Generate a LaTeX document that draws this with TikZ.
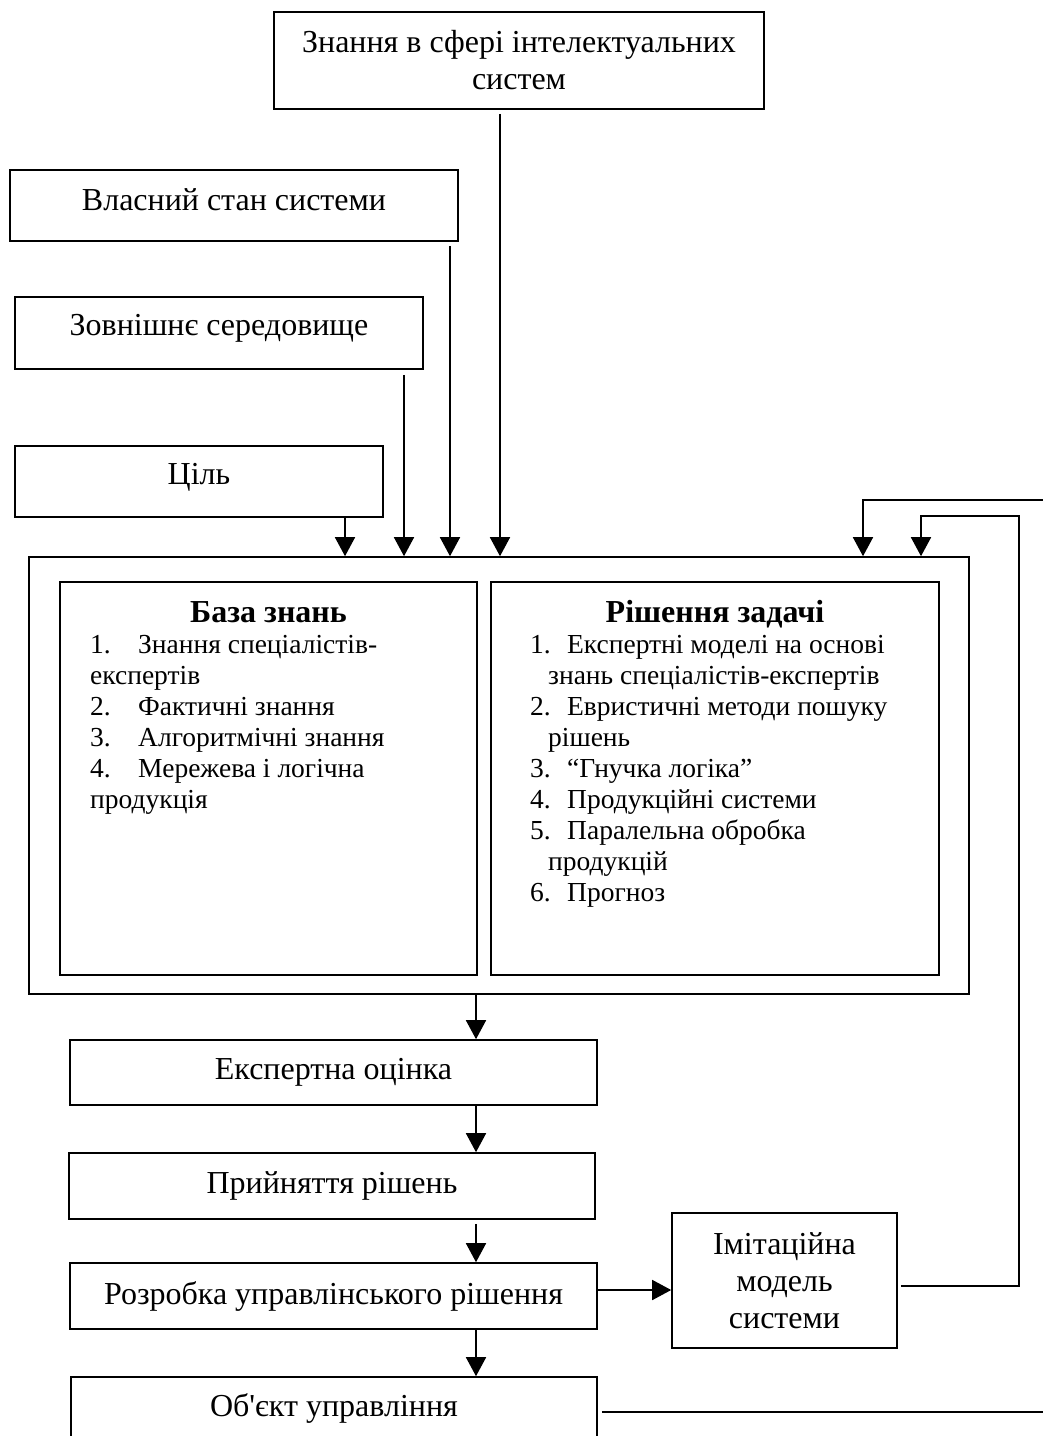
\documentclass[tikz,border=0pt]{standalone}
\usepackage{fontspec}
\setmainfont{Liberation Serif}[Ligatures=TeXOff]
\usetikzlibrary{arrows.meta}
\begin{document}
\begin{tikzpicture}[x=1pt,y=-1pt,
  lw/.style={line width=1.6pt},
  box/.style={draw,lw,rectangle,inner sep=0pt,align=center,
    font=\fontsize{32}{37}\selectfont},
  frame/.style={draw,lw,rectangle,inner sep=0pt},
  label/.style={inner sep=0pt,align=center,font=\fontsize{32}{37}\selectfont},
  arr/.style={lw,-{Triangle[length=19pt,width=20pt]}},
  head/.style={inner sep=0pt,font=\fontsize{32}{37}\selectfont\bfseries},
  item/.style={anchor=base west,inner sep=0pt,font=\fontsize{27.5}{31}\selectfont}
]
\useasboundingbox (0,0) rectangle (1043,1436);

% input boxes
\node[box,minimum width=490pt,minimum height=97pt] (top) at (519,60.5)
  {Знання в сфері інтелектуальних\\систем};
\node[box,minimum width=448pt,minimum height=71pt] (vl) at (234,205.5) {};
\node[label] (vlt) at (234,200) {Власний стан системи};
\node[box,minimum width=408pt,minimum height=72pt] (zo) at (219,333) {};
\node[label] (zot) at (219,328) {Зовнішнє середовище};
\node[box,minimum width=368pt,minimum height=71pt] (ts) at (199,481.5) {};
\node[label] (tst) at (199,477) {Ціль};

% central block
\node[frame,minimum width=940pt,minimum height=437pt] (outer) at (499,775.5) {};
\node[frame,minimum width=417pt,minimum height=393pt] (inL) at (268.5,778.5) {};
\node[frame,minimum width=448pt,minimum height=393pt] (inR) at (715,778.5) {};

% knowledge base contents
\node[head,anchor=base] (hL) at (268.5,622) {База знань};
\node[item] (l1) at (90,653) {\makebox[48pt][l]{1.}Знання спеціалістів-};
\node[item] (l2) at (90,684) {експертів};
\node[item] (l3) at (90,715) {\makebox[48pt][l]{2.}Фактичні знання};
\node[item] (l4) at (90,746) {\makebox[48pt][l]{3.}Алгоритмічні знання};
\node[item] (l5) at (90,777) {\makebox[48pt][l]{4.}Мережева і логічна};
\node[item] (l6) at (90,808) {продукція};

% problem solving contents
\node[head,anchor=base] (hR) at (715,622) {Рішення задачі};
\node[item] (r1) at (530,653) {\makebox[37pt][l]{1.}Експертні моделі на основі};
\node[item] (r2) at (548,684) {знань спеціалістів-експертів};
\node[item] (r3) at (530,715) {\makebox[37pt][l]{2.}Евристичні методи пошуку};
\node[item] (r4) at (548,746) {рішень};
\node[item] (r5) at (530,777) {\makebox[37pt][l]{3.}“Гнучка логіка”};
\node[item] (r6) at (530,808) {\makebox[37pt][l]{4.}Продукційні системи};
\node[item] (r7) at (530,839) {\makebox[37pt][l]{5.}Паралельна обробка};
\node[item] (r8) at (548,870) {продукцій};
\node[item] (r9) at (530,901) {\makebox[37pt][l]{6.}Прогноз};

% output chain
\node[box,minimum width=527pt,minimum height=65pt] (eksp) at (333.5,1072.5) {Експертна оцінка};
\node[box,minimum width=526pt,minimum height=66pt] (pr) at (332,1186) {Прийняття рішень};
\node[box,minimum width=527pt,minimum height=66pt] (rz) at (333.5,1296) {Розробка управлінського рішення};
\node[box,minimum width=225pt,minimum height=135pt] (im) at (784.5,1280.5) {Імітаційна\\модель\\системи};
\node[frame,minimum width=526pt,minimum height=90pt] (ob) at (334,1422) {};
\node[label] (obt) at (334,1408) {Об'єкт управління};

% guide coordinates for connectors
\coordinate (xTop) at (500,0);
\coordinate (xVl) at (450,0);
\coordinate (xZo) at (404,0);
\coordinate (xTs) at (345,0);
\coordinate (xMid) at (476,0);
\coordinate (xF1) at (863,0);
\coordinate (xF2) at (921,0);
\coordinate (xR1) at (1052,0);
\coordinate (xR2) at (1019,0);
\coordinate (yF1) at (0,500);
\coordinate (yF2) at (0,516);
\coordinate (yIm) at (0,1286);
\coordinate (yRz) at (0,1290);
\coordinate (yOb) at (0,1412);

% inputs into the central block
\draw[arr,shorten <=4pt] (top.south -| xTop) -- (outer.north -| xTop);
\draw[arr,shorten <=4pt] (vl.south -| xVl) -- (outer.north -| xVl);
\draw[arr,shorten <=5pt] (zo.south -| xZo) -- (outer.north -| xZo);
\draw[arr] (ts.south -| xTs) -- (outer.north -| xTs);

% downward chain
\draw[arr] (outer.south -| xMid) -- (eksp.north -| xMid);
\draw[arr] (eksp.south -| xMid) -- (pr.north -| xMid);
\draw[arr,shorten <=4pt] (pr.south -| xMid) -- (rz.north -| xMid);
\draw[arr] (rz.south -| xMid) -- (ob.north -| xMid);
\draw[arr] (rz.east |- yRz) -- (im.west |- yRz);

% feedback loops
\draw[arr,shorten <=3pt] (im.east |- yIm) -- (xR2 |- yIm) -- (xR2 |- yF2)
  -- (xF2 |- yF2) -- (outer.north -| xF2);
\draw[arr,shorten <=4pt] (ob.east |- yOb) -- (xR1 |- yOb) -- (xR1 |- yF1)
  -- (xF1 |- yF1) -- (outer.north -| xF1);
\end{tikzpicture}
\end{document}
